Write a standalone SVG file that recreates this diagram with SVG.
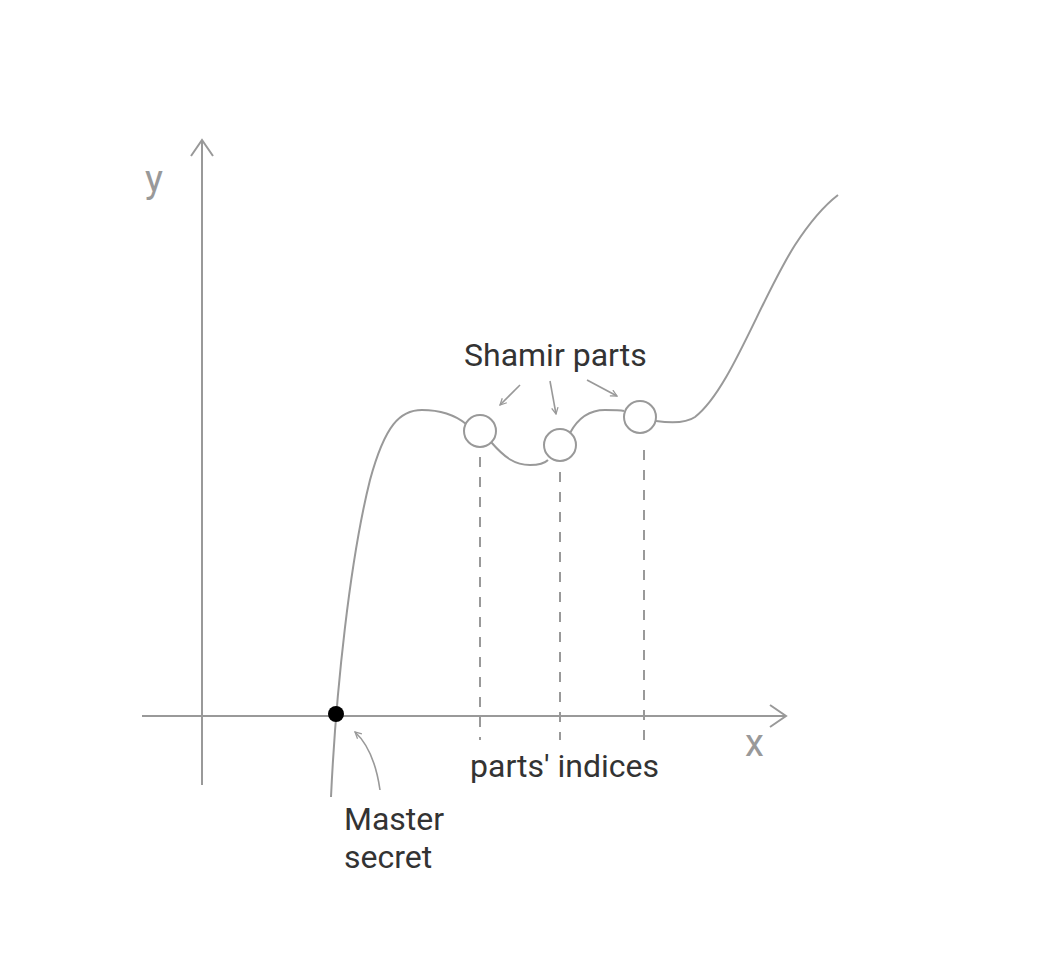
<svg xmlns="http://www.w3.org/2000/svg" width="1038" height="972" viewBox="0 0 1038 972">
<defs>
<style>
.ax{fill:none;stroke:#999;stroke-width:2}
.cv{fill:none;stroke:#999;stroke-width:2}
.dash{fill:none;stroke:#999;stroke-width:2;stroke-dasharray:10 10}
.pt{fill:#fff;stroke:#999;stroke-width:2}
.ar{fill:none;stroke:#999;stroke-width:1.6}
.lbl{font-family:Roboto,"Liberation Sans",sans-serif;font-size:32px;fill:#333}
.axl{font-family:Roboto,"Liberation Sans",sans-serif;font-size:38px;fill:#999}
</style>
<marker id="ah" viewBox="0 0 10 10" refX="9" refY="5" markerWidth="8" markerHeight="8" markerUnits="userSpaceOnUse" orient="auto">
<path d="M1,1 L9,5 L1,9" fill="none" stroke="#999" stroke-width="1.6"/>
</marker>
</defs>
<rect width="1038" height="972" fill="#fff"/>
<g id="axes">
<line class="ax" x1="202" y1="785" x2="202" y2="140"/>
<path class="ax" d="M191,156 L202,140 L213,156"/>
<line class="ax" x1="142" y1="716" x2="786" y2="716"/>
<path class="ax" d="M770,705 L786,716 L770,727"/>
<text class="axl" x="145" y="192">y</text>
<text class="axl" x="745" y="756">x</text>
</g>
<g id="curve">
<path class="cv" d="M331,797 C336,690 350,560 370,480 C385,425 400,410 422,410 C440,410 455,415 466,424"/>
<path class="cv" d="M491,442 C505,458 515,465 530,465 C540,465 545,463 548,460"/>
<path class="cv" d="M570,433 C578,418 590,410 605,410 C615,410 620,410 624,411"/>
<path class="cv" d="M656,421 C670,423 685,424 695,417 C730,390 760,300 795,245 C810,222 825,205 838,195"/>
</g>
<g id="connectors">
<line class="dash" x1="480" y1="457" x2="480" y2="740"/>
<line class="dash" x1="560" y1="472" x2="560" y2="740"/>
<line class="dash" x1="644" y1="450" x2="644" y2="740"/>
<line class="ar" x1="520" y1="385" x2="500" y2="405" marker-end="url(#ah)"/>
<line class="ar" x1="550" y1="381" x2="556" y2="414" marker-end="url(#ah)"/>
<line class="ar" x1="587" y1="380" x2="617" y2="396" marker-end="url(#ah)"/>
<path class="ar" d="M380,790 C376,762 368,744 355,732" marker-end="url(#ah)"/>
</g>
<g id="part1"><circle class="pt" cx="480" cy="431" r="16"/></g>
<g id="part2"><circle class="pt" cx="560" cy="445" r="16"/></g>
<g id="part3"><circle class="pt" cx="640" cy="417" r="16"/></g>
<g id="master"><circle cx="336" cy="714" r="8" fill="#000"/></g>
<g id="labels">
<text class="lbl" x="464" y="366">Shamir parts</text>
<text class="lbl" x="470" y="777">parts' indices</text>
<text class="lbl" x="344" y="830">Master</text>
<text class="lbl" x="344" y="868">secret</text>
</g>
</svg>
